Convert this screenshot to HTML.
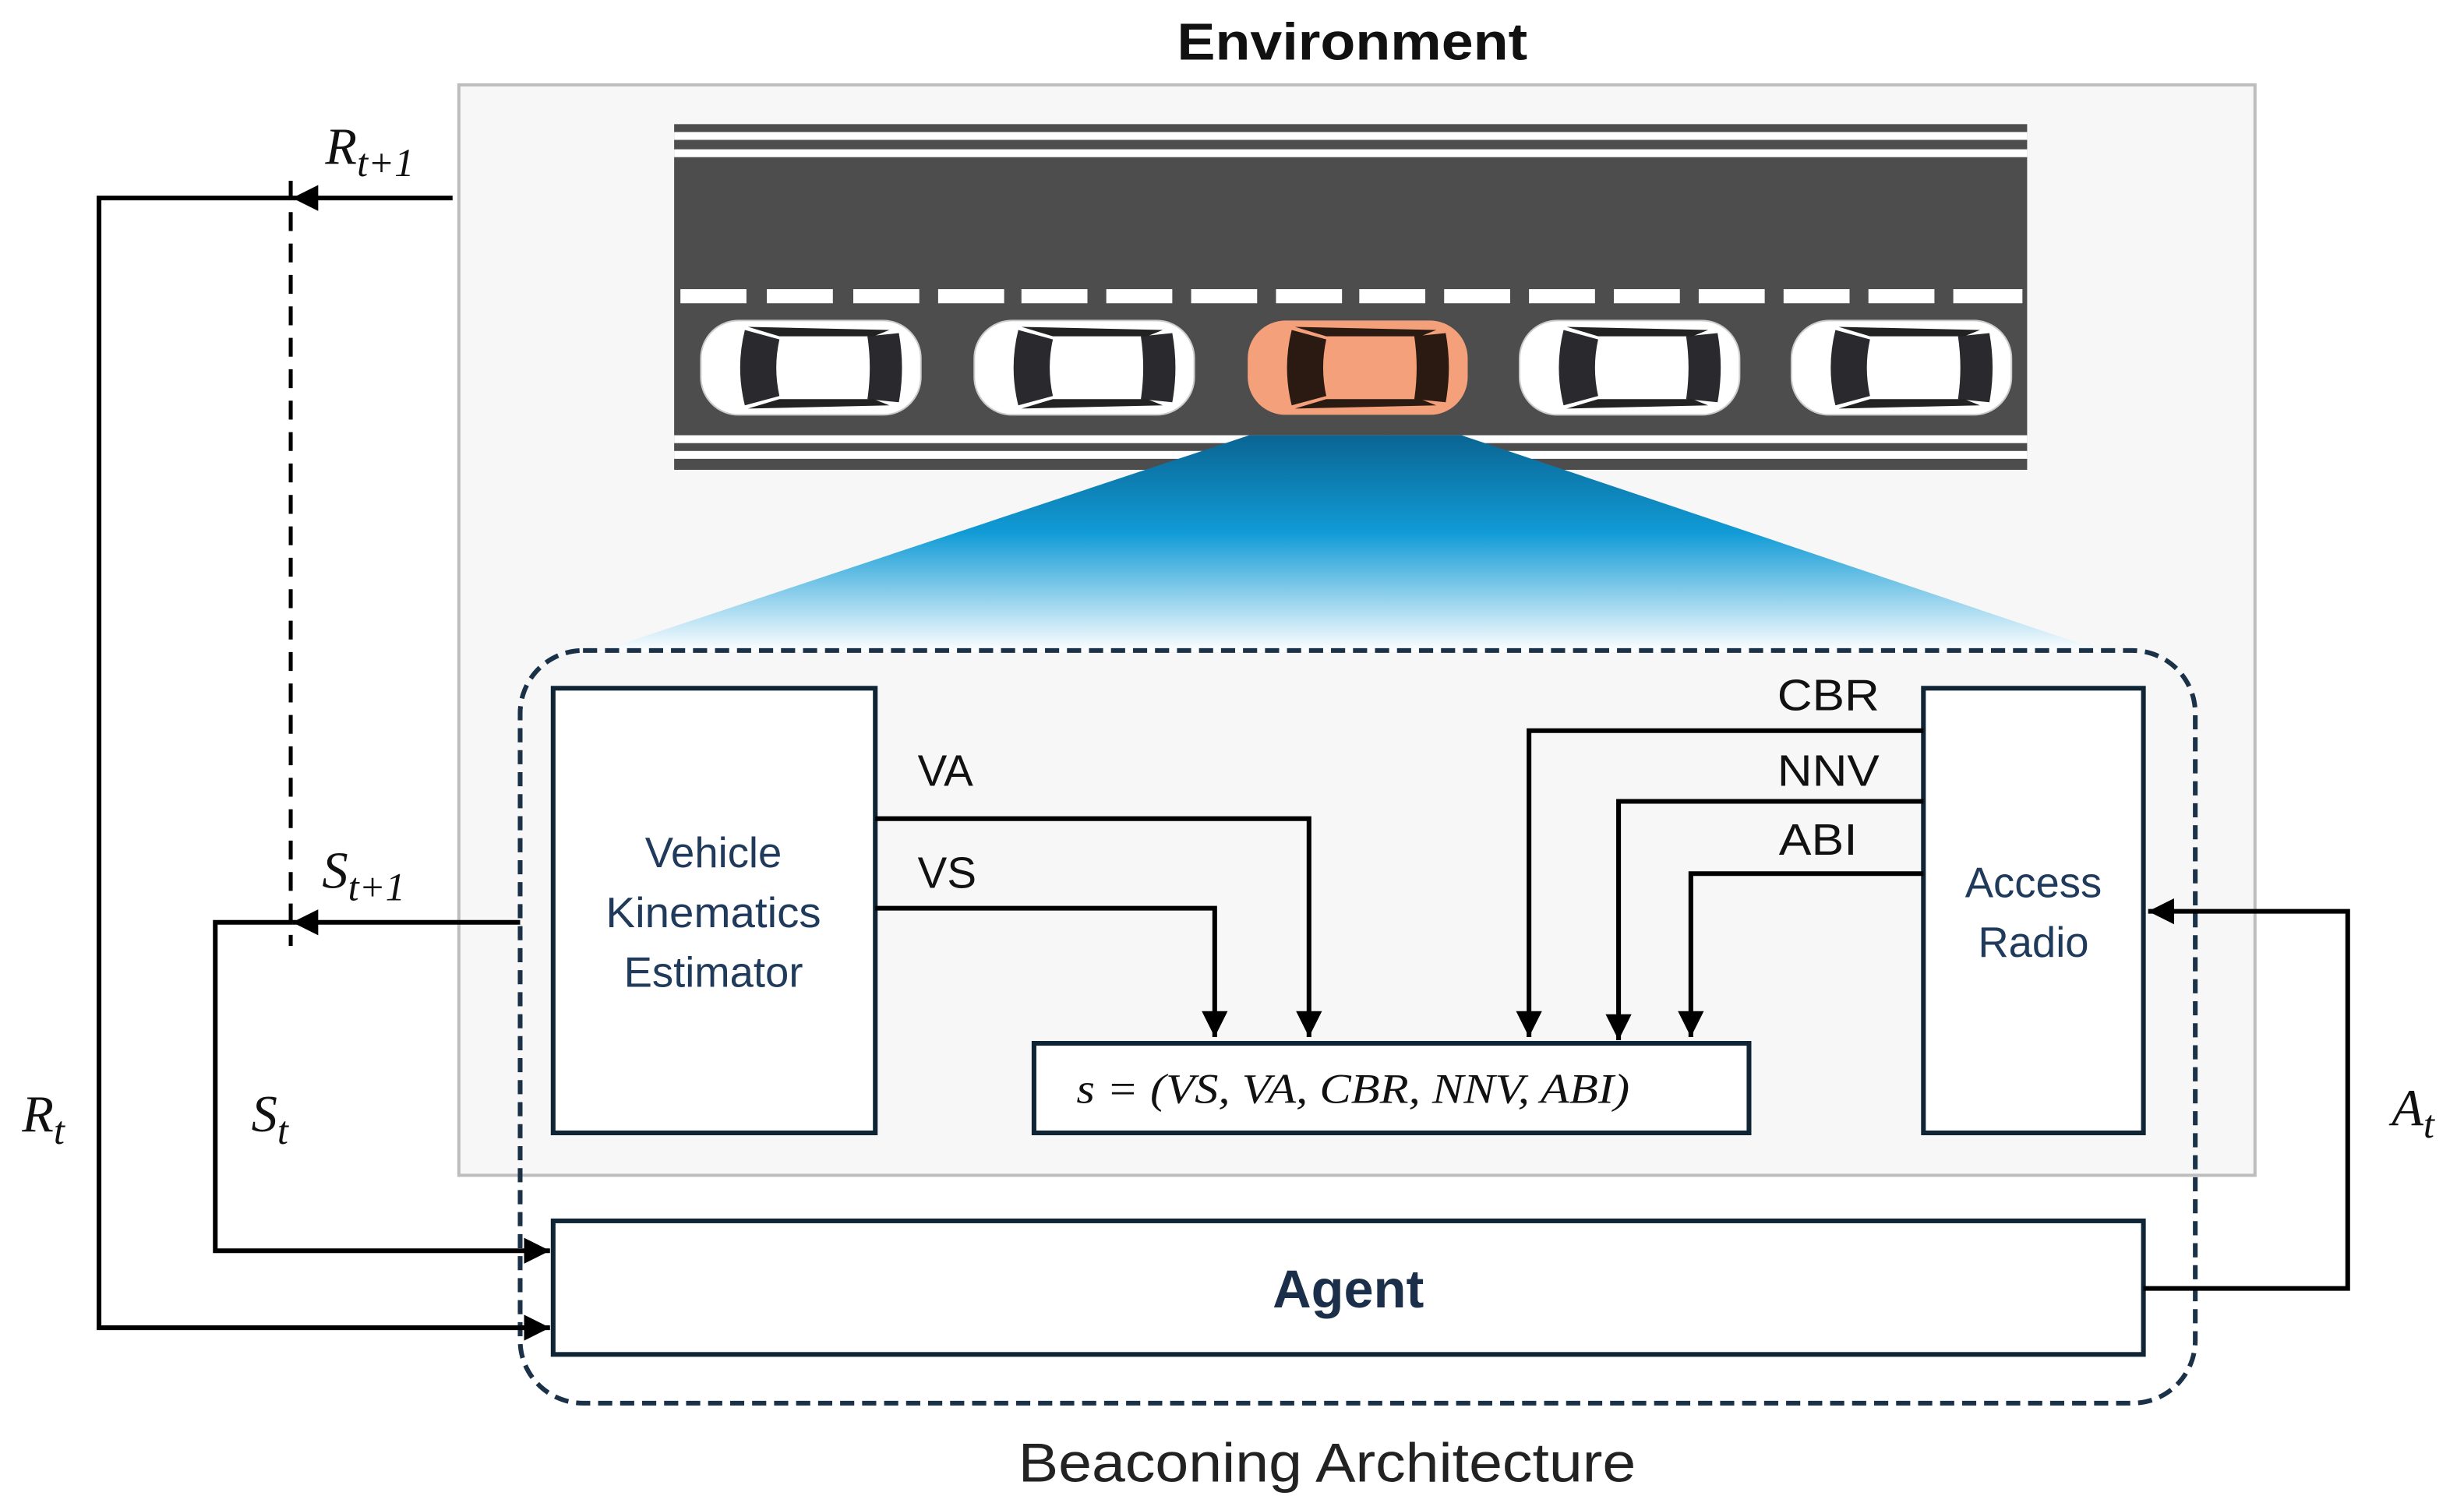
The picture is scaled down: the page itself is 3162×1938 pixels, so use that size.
<!DOCTYPE html>
<html><head><meta charset="utf-8"><style>
html,body{margin:0;padding:0;background:#fff;}
svg{display:block;}
</style></head><body>
<svg width="3162" height="1938" viewBox="0 0 1568 961" xmlns="http://www.w3.org/2000/svg">
<defs>
<linearGradient id="beam" x1="0" y1="0" x2="0" y2="1">
<stop offset="0" stop-color="#0a6593"/>
<stop offset="0.45" stop-color="#119bd6"/>
<stop offset="1" stop-color="#ffffff"/>
</linearGradient>
<marker id="ar" viewBox="0 0 10 10" refX="10" refY="5" markerWidth="5.5" markerHeight="5.5" orient="auto-start-reverse" markerUnits="strokeWidth">
<path d="M0,0 L10,5 L0,10 z" fill="#000"/>
</marker>
<g id="car">
<rect x="-70" y="-30" width="140" height="60" rx="24" fill="#fff" stroke="#ccc" stroke-width="1"/>
<path d="M-42,-24 Q-48,0 -42,24 L-20,18 Q-24,0 -20,-18 Z" fill="#2a2a2e"/>
<path d="M36,-20 L56,-22 Q60,0 56,22 L36,20 Q39,0 36,-20 Z" fill="#2a2a2e"/>
<path d="M-40,-26 L50,-24 L40,-20 L-20,-20 Z" fill="#222"/>
<path d="M-40,26 L50,24 L40,20 L-20,20 Z" fill="#222"/>
</g>
</defs>

<text x="749" y="38" textLength="223" lengthAdjust="spacingAndGlyphs" font-family="Liberation Sans, sans-serif" font-weight="bold" font-size="33" fill="#111">Environment</text>

<rect x="292" y="54" width="1143" height="694" fill="#f7f7f7" stroke="#bdbdbd" stroke-width="2"/>

<rect x="429" y="79" width="861" height="220" fill="#4d4d4d"/>
<rect x="429" y="84" width="861" height="5" fill="#fff"/>
<rect x="429" y="95" width="861" height="5" fill="#fff"/>
<rect x="429" y="277" width="861" height="5" fill="#fff"/>
<rect x="429" y="287" width="861" height="5" fill="#fff"/>
<g fill="#fff">
<rect x="433" y="184" width="42" height="9"/><rect x="488" y="184" width="42" height="9"/>
<rect x="543" y="184" width="42" height="9"/><rect x="597" y="184" width="42" height="9"/>
<rect x="650" y="184" width="42" height="9"/><rect x="704" y="184" width="42" height="9"/>
<rect x="758" y="184" width="42" height="9"/><rect x="812" y="184" width="42" height="9"/>
<rect x="865" y="184" width="42" height="9"/><rect x="919" y="184" width="42" height="9"/>
<rect x="973" y="184" width="42" height="9"/><rect x="1027" y="184" width="42" height="9"/>
<rect x="1081" y="184" width="42" height="9"/><rect x="1135" y="184" width="42" height="9"/>
<rect x="1189" y="184" width="42" height="9"/><rect x="1243" y="184" width="44" height="9"/>
</g>
<use href="#car" x="516" y="234"/>
<use href="#car" x="690" y="234"/>
<g transform="translate(864,234)">
<rect x="-70" y="-30" width="140" height="60" rx="24" fill="#f4a07b"/>
<path d="M-42,-24 Q-48,0 -42,24 L-20,18 Q-24,0 -20,-18 Z" fill="#2a1a12"/>
<path d="M36,-20 L56,-22 Q60,0 56,22 L36,20 Q39,0 36,-20 Z" fill="#2a1a12"/>
<path d="M-40,-26 L50,-24 L40,-20 L-20,-20 Z" fill="#2a1a12"/>
<path d="M-40,26 L50,24 L40,20 L-20,20 Z" fill="#2a1a12"/>
</g>
<use href="#car" x="1037" y="234"/>
<use href="#car" x="1210" y="234"/>

<path d="M795,277 L930,277 L1340,415 L380,415 Z" fill="url(#beam)"/>

<rect x="331" y="414" width="1066" height="479" rx="40" fill="none" stroke="#1a3148" stroke-width="3" stroke-dasharray="9,5"/>

<rect x="352" y="438" width="205" height="283" fill="#fff" stroke="#0f2535" stroke-width="3"/>
<g font-family="Liberation Sans, sans-serif" font-size="27" fill="#1f3a5a" text-anchor="middle">
<text x="454" y="552">Vehicle</text>
<text x="454" y="590" textLength="137" lengthAdjust="spacingAndGlyphs">Kinematics</text>
<text x="454" y="628">Estimator</text>
</g>
<rect x="1224" y="438" width="140" height="283" fill="#fff" stroke="#0f2535" stroke-width="3"/>
<g font-family="Liberation Sans, sans-serif" font-size="27" fill="#1f3a5a" text-anchor="middle">
<text x="1294" y="571">Access</text>
<text x="1294" y="609">Radio</text>
</g>
<rect x="658" y="664" width="455" height="57" fill="#fff" stroke="#0f2535" stroke-width="3"/>
<text x="685" y="702" textLength="352" lengthAdjust="spacingAndGlyphs" font-family="Liberation Serif, serif" font-style="italic" font-size="27" fill="#111">s = (VS, VA, CBR, NNV, ABI)</text>

<rect x="352" y="777" width="1012" height="85" fill="#fff" stroke="#0f2535" stroke-width="3"/>
<text x="858" y="832" font-family="Liberation Sans, sans-serif" font-weight="bold" font-size="34" fill="#1b2f4a" text-anchor="middle">Agent</text>

<g fill="none" stroke="#000" stroke-width="3">
<polyline points="557,521 833,521 833,660" marker-end="url(#ar)"/>
<polyline points="557,578 773,578 773,660" marker-end="url(#ar)"/>
<polyline points="1224,465 973,465 973,660" marker-end="url(#ar)"/>
<polyline points="1224,510 1030,510 1030,662" marker-end="url(#ar)"/>
<polyline points="1224,556 1076,556 1076,660" marker-end="url(#ar)"/>
<polyline points="1364,820 1494,820 1494,580 1367,580" marker-end="url(#ar)"/>
<line x1="331" y1="587" x2="186" y2="587" marker-end="url(#ar)"/>
<polyline points="186,587 137,587 137,796 350,796" marker-end="url(#ar)"/>
<line x1="288" y1="126" x2="186" y2="126" marker-end="url(#ar)"/>
<polyline points="186,126 63,126 63,845 350,845" marker-end="url(#ar)"/>
<line x1="185" y1="115" x2="185" y2="602" stroke-width="2.5" stroke-dasharray="12,8"/>
</g>

<g font-family="Liberation Sans, sans-serif" font-size="28" fill="#111">
<text x="584" y="500">VA</text>
<text x="584" y="565">VS</text>
<text x="1131" y="452" textLength="65" lengthAdjust="spacingAndGlyphs">CBR</text>
<text x="1131" y="500" textLength="65" lengthAdjust="spacingAndGlyphs">NNV</text>
<text x="1132" y="544" textLength="50" lengthAdjust="spacingAndGlyphs">ABI</text>
</g>

<g font-family="Liberation Serif, serif" font-style="italic" fill="#111">
<text x="207" y="104" font-size="33">R<tspan font-size="25" dy="8">t+1</tspan></text>
<text x="205" y="565" font-size="33">S<tspan font-size="25" dy="8">t+1</tspan></text>
<text x="14" y="720" font-size="33">R<tspan font-size="25" dy="8">t</tspan></text>
<text x="160" y="720" font-size="33">S<tspan font-size="25" dy="8">t</tspan></text>
<text x="1522" y="716" font-size="33">A<tspan font-size="25" dy="8">t</tspan></text>
</g>

<text x="648" y="943" textLength="393" lengthAdjust="spacingAndGlyphs" font-family="Liberation Sans, sans-serif" font-size="35" fill="#222">Beaconing Architecture</text>
</svg>
</body></html>
